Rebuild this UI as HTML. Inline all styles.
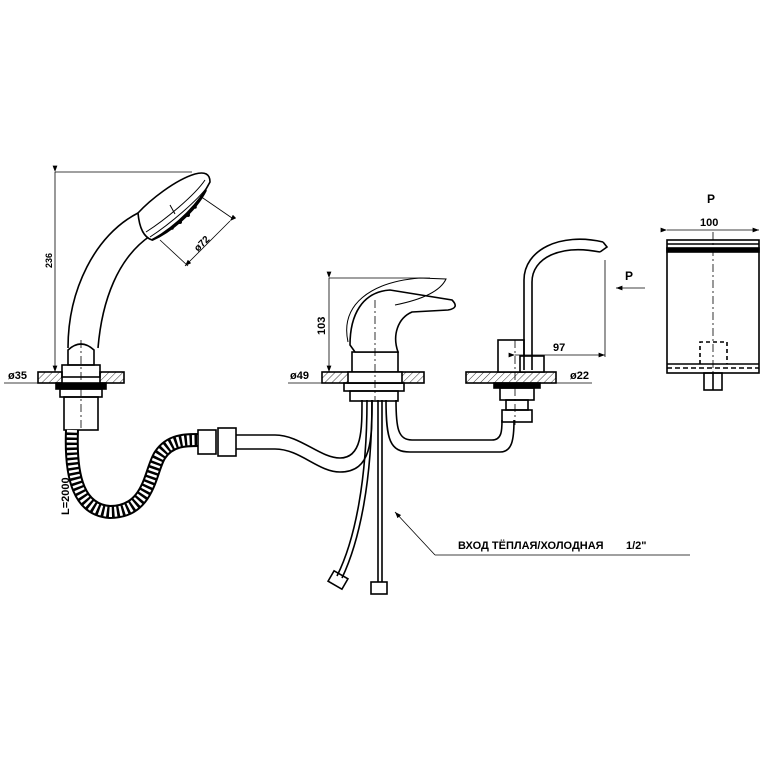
<!DOCTYPE html>
<html><head><meta charset="utf-8"><style>
html,body{margin:0;padding:0;background:#fff}
svg{display:block}
text{font-family:"Liberation Sans","DejaVu Sans",sans-serif;fill:#000;font-weight:bold}
</style></head><body>
<svg width="768" height="768" viewBox="0 0 768 768" xmlns="http://www.w3.org/2000/svg">
<defs>
<pattern id="h" width="5" height="5" patternUnits="userSpaceOnUse" patternTransform="rotate(45)"><line x1="0" y1="0" x2="0" y2="5" stroke="#000" stroke-width="0.8"/></pattern>
<marker id="a" markerWidth="8" markerHeight="6" refX="8" refY="3" orient="auto"><path d="M0,0 L8,3 L0,6" fill="#000"/></marker>
</defs>
<g fill="none" stroke="#000" stroke-width="1.6">
<!-- shower head -->
<path d="M68,348 C68,290 95,235 138,213 L150,236 C118,258 102,300 98,348"/>
<path d="M138,213 C150,200 175,180 195,174 Q210,170 210,182 C200,202 178,225 152,240 Q140,236 138,213 Z" fill="#fff"/>
<path d="M146,232 C165,220 195,195 205,180 M150,237 C170,224 198,200 208,186" stroke-width="1"/>
<path d="M152,240 C170,232 195,212 206,190" stroke-width="2.2"/>
<g fill="#000" stroke="none"><circle cx="180" cy="222" r="2"/><circle cx="188" cy="215" r="2"/><circle cx="172" cy="228" r="1.8"/><circle cx="195" cy="207" r="1.8"/></g>
<line x1="170" y1="205" x2="175" y2="214" stroke-width="1"/>
<!-- shower base -->
<path d="M68,350 Q81,338 94,350 L94,365 L68,365 Z"/>
<rect x="62" y="365" width="38" height="12"/>
<rect x="38" y="372" width="24" height="11" fill="url(#h)"/>
<rect x="100" y="372" width="24" height="11" fill="url(#h)"/>
<rect x="56" y="383" width="50" height="6" fill="#000"/>
<rect x="60" y="389" width="42" height="8"/>
<rect x="64" y="397" width="34" height="33"/>
<!-- spiral hose -->
<path d="M72,430 C70,480 80,510 110,512 C150,512 150,470 160,455 C170,440 185,440 200,440" stroke-width="14" stroke="#000"/>
<path d="M72,430 C70,480 80,510 110,512 C150,512 150,470 160,455 C170,440 185,440 200,440" stroke-width="10" stroke="#fff" stroke-dasharray="2.5 2.5"/>
<rect x="198" y="430" width="18" height="24" fill="#fff"/>
<rect x="218" y="428" width="18" height="28" fill="#fff"/>
<!-- pipes -->
<path d="M236,435 L275,435 C300,435 320,458 340,458 C362,458 362,430 362,400"/>
<path d="M236,449 L275,449 C300,449 318,472 340,472 C372,472 372,440 372,400"/>
<path d="M386,400 C386,440 390,452 410,452 L500,452 C512,452 514,440 514,420"/>
<path d="M396,400 C396,428 398,440 412,440 L492,440 C502,440 502,430 502,420"/>
<!-- mixer -->
<rect x="322" y="372" width="102" height="11" fill="url(#h)"/>
<rect x="352" y="352" width="46" height="20" fill="#fff"/>
<rect x="348" y="372" width="54" height="11" fill="#fff"/>
<rect x="344" y="383" width="60" height="8"/>
<rect x="350" y="391" width="48" height="10"/>
<path d="M350,345 C350,315 362,292 390,290 L452,300 Q460,308 448,310 L412,312 C398,318 392,335 398,352 L355,352 Z" fill="#fff"/>
<path d="M348,342 C340,305 370,282 420,278 L446,279 C440,292 420,300 395,305" stroke-width="1"/>
<path d="M378,400 L378,582 M382,400 L382,582"/>
<path d="M372,400 C372,480 360,540 342,578 M367,400 C367,480 355,540 337,576"/>
<rect x="371" y="582" width="16" height="12"/>
<rect x="330" y="574" width="16" height="12" transform="rotate(30 338 580)"/>
<!-- spout -->
<rect x="466" y="372" width="90" height="11" fill="url(#h)"/>
<rect x="498" y="340" width="26" height="32" fill="#fff"/>
<rect x="520" y="356" width="24" height="16" fill="#fff"/>
<rect x="494" y="383" width="46" height="5" fill="#000"/>
<rect x="500" y="388" width="34" height="12"/>
<rect x="506" y="400" width="22" height="10"/>
<rect x="502" y="410" width="30" height="12"/>
<path d="M524,370 L524,280 C524,250 560,232 603,242 M532,370 L532,282 C532,258 560,244 600,252"/>
<path d="M603,242 L607,247 L600,252"/>
<!-- side view -->
<rect x="667" y="240" width="92" height="133"/>
<line x1="667" y1="244" x2="759" y2="244"/>
<rect x="667" y="248" width="92" height="4" fill="#000"/>
<line x1="667" y1="364" x2="759" y2="364"/>
<line x1="667" y1="368" x2="759" y2="368" stroke-dasharray="5 3"/>
<rect x="704" y="373" width="18" height="17"/>
<line x1="713" y1="373" x2="713" y2="390"/>
<path d="M700,364 L700,342 L727,342 L727,364" stroke-dasharray="4 3"/>
</g>
<g fill="none" stroke="#000" stroke-width="0.8">
<path d="M81,340 L81,430 M713,232 L713,390 M375,300 L375,400 M515,340 L515,425" stroke-dasharray="8 3 2 3"/>
<line x1="55" y1="172" x2="55" y2="372" marker-start="url(#a)" marker-end="url(#a)"/>
<line x1="55" y1="172" x2="192" y2="172"/>
<line x1="4" y1="383" x2="40" y2="383"/>
<line x1="200" y1="196" x2="232" y2="218"/>
<line x1="160" y1="240" x2="188" y2="266"/>
<line x1="230" y1="221" x2="185" y2="266" marker-start="url(#a)" marker-end="url(#a)"/>
<line x1="329" y1="278" x2="329" y2="372" marker-start="url(#a)" marker-end="url(#a)"/>
<line x1="329" y1="278" x2="430" y2="278"/>
<line x1="288" y1="383" x2="324" y2="383"/>
<line x1="515" y1="355" x2="605" y2="355" marker-start="url(#a)" marker-end="url(#a)"/>
<line x1="605" y1="260" x2="605" y2="357"/>
<line x1="556" y1="383" x2="592" y2="383"/>
<line x1="667" y1="230" x2="759" y2="230" marker-start="url(#a)" marker-end="url(#a)"/>
<line x1="645" y1="288" x2="616" y2="288" marker-end="url(#a)"/>
<line x1="690" y1="555" x2="435" y2="555"/>
<line x1="435" y1="555" x2="395" y2="512" marker-end="url(#a)"/>
</g>
<g font-size="11">
<text x="8" y="379">ø35</text>
<text x="290" y="379">ø49</text>
<text x="570" y="379">ø22</text>
<text x="553" y="351">97</text>
<text x="700" y="226" font-weight="normal">100</text>
<text x="707" y="203" font-size="12">P</text>
<text x="625" y="280" font-size="12">P</text>
<text x="458" y="549">ВХОД ТЁПЛАЯ/ХОЛОДНАЯ</text>
<text x="626" y="549">1/2"</text>
<text transform="translate(52,268) rotate(-90)" font-size="9">236</text>
<text transform="translate(325,335) rotate(-90)">103</text>
<text transform="translate(69,515) rotate(-90)">L=2000</text>
<text transform="translate(198,252) rotate(-45)" font-size="10">ø72</text>
</g>
</svg>
</body></html>
